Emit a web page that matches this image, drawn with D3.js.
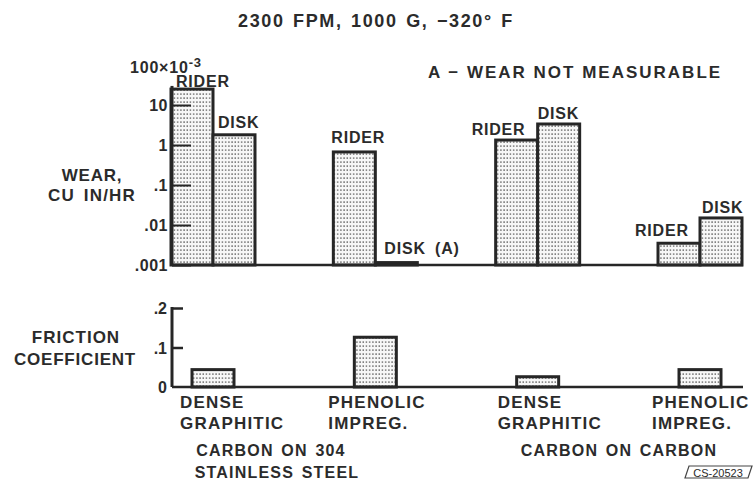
<!DOCTYPE html>
<html><head><meta charset="utf-8">
<script src="https://cdn.jsdelivr.net/npm/d3@7"></script>
<style>
body{margin:0;background:#fff;}
text{font-family:"Liberation Sans",Arial,sans-serif;font-weight:bold;fill:#2b2b2b;}
</style></head>
<body><svg id="c" width="753" height="483"></svg>
<script>
const groups = ["g1","g2","g3","g4"];
const catLine1 = ["DENSE","PHENOLIC","DENSE","PHENOLIC"];
const catLine2 = ["GRAPHITIC","IMPREG.","GRAPHITIC","IMPREG."];
const parts = ["RIDER","DISK"];
const riderWear = [25, 0.67, 1.33, 0.0035];
const diskWear = [1.8, 0.00115, 3.35, 0.015];
const diskLabels = ["DISK","DISK (A)","DISK","DISK"];
const friction = [0.044, 0.126, 0.026, 0.044];
const wearTicks = [0.001, 0.01, 0.1, 1, 10];
const wearTickLabels = [".001", ".01", ".1", "1", "10"];
const fricTicks = [0, 0.1, 0.2];
const fricTickLabels = ["0", ".1", ".2"];

const svg = d3.select("#c");
const ink = "#262626";

// pattern
const defs = svg.append("defs");
const pat = defs.append("pattern").attr("id","dots").attr("patternUnits","userSpaceOnUse")
  .attr("width",3.2).attr("height",4);
pat.append("rect").attr("width",3.2).attr("height",4).attr("fill","#f7f7f7");
pat.append("rect").attr("x",1).attr("y",1.4).attr("width",1.4).attr("height",1.4).attr("fill","#5e5e5e");

const xC = d3.scalePoint().domain(groups).range([213, 700]);
const xIn = d3.scaleBand().domain(parts).range([-42, 42]).padding(0);
const yW = d3.scaleLog().domain([0.001, 100]).range([265, 65]);
const yF = d3.scaleLinear().domain([0, 0.2]).range([387, 308]);
const axisX = 172;

// Title
svg.append("text").attr("x",376).attr("y",27).attr("text-anchor","middle")
  .attr("font-size",18).attr("letter-spacing",1.6).attr("word-spacing",2)
  .text("2300 FPM, 1000 G, \u2212320\u00B0 F");
svg.append("text").attr("x",575).attr("y",78).attr("text-anchor","middle")
  .attr("font-size",17).attr("letter-spacing",2)
  .text("A \u2212 WEAR NOT MEASURABLE");

// wear bars
const wearData = [];
groups.forEach((g,i)=>{
  wearData.push({g, part:"RIDER", v:riderWear[i], label:"RIDER"});
  wearData.push({g, part:"DISK", v:diskWear[i], label:diskLabels[i]});
});
svg.append("g").selectAll("rect").data(wearData).join("rect")
  .attr("x", d=>xC(d.g)+xIn(d.part))
  .attr("y", d=>yW(d.v))
  .attr("width", xIn.bandwidth())
  .attr("height", d=>yW(0.001)-yW(d.v))
  .attr("fill","url(#dots)").attr("stroke",ink).attr("stroke-width",3);

// wear axis
const wAxis = d3.axisRight(yW).tickValues(wearTicks).tickSize(19).tickFormat("");
const wa = svg.append("g").attr("transform",`translate(${axisX},0)`).call(wAxis);
wa.select(".domain").remove();
wa.selectAll("line").attr("stroke",ink).attr("stroke-width",2);
svg.append("line").attr("x1",axisX).attr("x2",axisX).attr("y1",yW(30)).attr("y2",yW(0.001))
  .attr("stroke",ink).attr("stroke-width",3);
svg.append("line").attr("x1",axisX).attr("x2",743).attr("y1",yW(0.001)).attr("y2",yW(0.001))
  .attr("stroke",ink).attr("stroke-width",2.5);
svg.append("g").selectAll("text").data(wearTicks).join("text")
  .attr("x",168).attr("y",d=>yW(d)+6).attr("text-anchor","end").attr("font-size",16)
  .attr("letter-spacing",0.5).text((d,i)=>wearTickLabels[i]);
// 100x10^-3 label
const topLbl = svg.append("text").attr("x",130).attr("y",yW(100)+8).attr("font-size",16).attr("letter-spacing",0.8);
topLbl.append("tspan").text("100\u00D710");
topLbl.append("tspan").attr("dy",-6).attr("font-size",13).text("-3");

// axis title
svg.append("text").attr("x",92).attr("y",181).attr("text-anchor","middle").attr("font-size",17).attr("letter-spacing",0.8).text("WEAR,");
svg.append("text").attr("x",92).attr("y",201).attr("text-anchor","middle").attr("font-size",17).attr("letter-spacing",1.2).attr("word-spacing",3).text("CU IN/HR");

// bar labels
const labelPos = [
  {dx:-37, y:87},
  {dx:5, y:128},
  {dx:-44, y:143},
  {dx:9, y:254},
  {dx:-66, y:135},
  {dx:0, y:119},
  {dx:-65, y:236},
  {dx:2, y:213}
];
svg.append("g").selectAll("text").data(wearData).join("text")
  .attr("x",(d,i)=>xC(d.g)+labelPos[i].dx)
  .attr("y",(d,i)=>labelPos[i].y)
  .attr("font-size",16).attr("letter-spacing",0.8).attr("word-spacing",4)
  .text(d=>d.label);

// friction bars
svg.append("g").selectAll("rect").data(friction).join("rect")
  .attr("x",(d,i)=>xC(groups[i])-21)
  .attr("y",d=>yF(d))
  .attr("width",42)
  .attr("height",d=>yF(0)-yF(d))
  .attr("fill","url(#dots)").attr("stroke",ink).attr("stroke-width",3);

const fAxis = d3.axisRight(yF).tickValues([0.1,0.2]).tickSize(11).tickFormat("");
const fa = svg.append("g").attr("transform",`translate(${axisX},0)`).call(fAxis);
fa.select(".domain").remove();
fa.selectAll("line").attr("stroke",ink).attr("stroke-width",2.5);
svg.append("line").attr("x1",axisX).attr("x2",axisX).attr("y1",yF(0.2)-1).attr("y2",yF(0))
  .attr("stroke",ink).attr("stroke-width",3);
svg.append("line").attr("x1",axisX).attr("x2",743).attr("y1",yF(0)).attr("y2",yF(0))
  .attr("stroke",ink).attr("stroke-width",2.5);
svg.append("g").selectAll("text").data(fricTicks).join("text")
  .attr("x",167).attr("y",d=>yF(d)+6).attr("text-anchor","end").attr("font-size",16)
  .text((d,i)=>fricTickLabels[i]);
svg.append("text").attr("x",76).attr("y",343).attr("text-anchor","middle").attr("font-size",17).attr("letter-spacing",1).text("FRICTION");
svg.append("text").attr("x",75).attr("y",365).attr("text-anchor","middle").attr("font-size",17).attr("letter-spacing",0.8).text("COEFFICIENT");

// category labels
const catDx = [-33, -47, -40, -48];
svg.append("g").selectAll("text").data(groups).join("text")
  .attr("x",(d,i)=>xC(d)+catDx[i]).attr("y",408).attr("font-size",17).attr("letter-spacing",1.2)
  .text((d,i)=>catLine1[i]);
svg.append("g").selectAll("text").data(groups).join("text")
  .attr("x",(d,i)=>xC(d)+catDx[i]).attr("y",429).attr("font-size",17).attr("letter-spacing",1.2)
  .text((d,i)=>catLine2[i]);

svg.append("text").attr("x",271).attr("y",456).attr("text-anchor","middle").attr("font-size",16).attr("letter-spacing",1.2).attr("word-spacing",2).text("CARBON ON 304");
svg.append("text").attr("x",277).attr("y",478).attr("text-anchor","middle").attr("font-size",16).attr("letter-spacing",1.2).attr("word-spacing",2).text("STAINLESS STEEL");
svg.append("text").attr("x",619).attr("y",456).attr("text-anchor","middle").attr("font-size",16).attr("letter-spacing",1.2).attr("word-spacing",2).text("CARBON ON CARBON");

// CS number
svg.append("path").attr("d","M689,466 L752,466 L748,478 L685,478 Z").attr("fill","none").attr("stroke","#444").attr("stroke-width",1.2);
svg.append("text").attr("x",718).attr("y",476.5).attr("text-anchor","middle").attr("font-size",11).style("font-weight","normal").attr("fill","#444").text("CS-20523");
</script></body></html>
